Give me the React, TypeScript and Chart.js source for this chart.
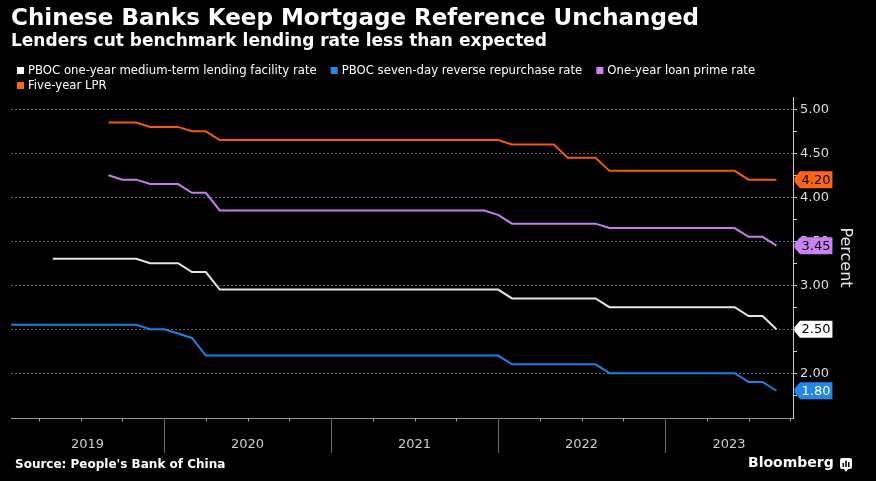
import React, { useEffect, useRef } from 'react';
import { Chart, registerables } from 'chart.js';

Chart.register(...registerables);

const titleText = 'Chinese Banks Keep Mortgage Reference Unchanged';
const subtitleText = 'Lenders cut benchmark lending rate less than expected';
const sourceText = "Source: People's Bank of China";
const axisTitle = 'Percent';

// monthly observations (month-end)
const months = [
  '2019-01', '2019-02', '2019-03', '2019-04', '2019-05', '2019-06', '2019-07', '2019-08', '2019-09', '2019-10', '2019-11', '2019-12',
  '2020-01', '2020-02', '2020-03', '2020-04', '2020-05', '2020-06', '2020-07', '2020-08', '2020-09', '2020-10', '2020-11', '2020-12',
  '2021-01', '2021-02', '2021-03', '2021-04', '2021-05', '2021-06', '2021-07', '2021-08', '2021-09', '2021-10', '2021-11', '2021-12',
  '2022-01', '2022-02', '2022-03', '2022-04', '2022-05', '2022-06', '2022-07', '2022-08', '2022-09', '2022-10', '2022-11', '2022-12',
  '2023-01', '2023-02', '2023-03', '2023-04', '2023-05', '2023-06', '2023-07', '2023-08',
];

const mlfRate = [
  null, null, null, 3.30, 3.30, 3.30, 3.30, 3.30, 3.30, 3.30, 3.25, 3.25,
  3.25, 3.15, 3.15, 2.95, 2.95, 2.95, 2.95, 2.95, 2.95, 2.95, 2.95, 2.95,
  2.95, 2.95, 2.95, 2.95, 2.95, 2.95, 2.95, 2.95, 2.95, 2.95, 2.95, 2.95,
  2.85, 2.85, 2.85, 2.85, 2.85, 2.85, 2.85, 2.75, 2.75, 2.75, 2.75, 2.75,
  2.75, 2.75, 2.75, 2.75, 2.75, 2.65, 2.65, 2.50,
];

const repoRate = [
  2.55, 2.55, 2.55, 2.55, 2.55, 2.55, 2.55, 2.55, 2.55, 2.55, 2.50, 2.50,
  2.45, 2.40, 2.20, 2.20, 2.20, 2.20, 2.20, 2.20, 2.20, 2.20, 2.20, 2.20,
  2.20, 2.20, 2.20, 2.20, 2.20, 2.20, 2.20, 2.20, 2.20, 2.20, 2.20, 2.20,
  2.10, 2.10, 2.10, 2.10, 2.10, 2.10, 2.10, 2.00, 2.00, 2.00, 2.00, 2.00,
  2.00, 2.00, 2.00, 2.00, 2.00, 1.90, 1.90, 1.80,
];

const lpr1y = [
  null, null, null, null, null, null, null, 4.25, 4.20, 4.20, 4.15, 4.15,
  4.15, 4.05, 4.05, 3.85, 3.85, 3.85, 3.85, 3.85, 3.85, 3.85, 3.85, 3.85,
  3.85, 3.85, 3.85, 3.85, 3.85, 3.85, 3.85, 3.85, 3.85, 3.85, 3.85, 3.80,
  3.70, 3.70, 3.70, 3.70, 3.70, 3.70, 3.70, 3.65, 3.65, 3.65, 3.65, 3.65,
  3.65, 3.65, 3.65, 3.65, 3.65, 3.55, 3.55, 3.45,
];

const lpr5y = [
  null, null, null, null, null, null, null, 4.85, 4.85, 4.85, 4.80, 4.80,
  4.80, 4.75, 4.75, 4.65, 4.65, 4.65, 4.65, 4.65, 4.65, 4.65, 4.65, 4.65,
  4.65, 4.65, 4.65, 4.65, 4.65, 4.65, 4.65, 4.65, 4.65, 4.65, 4.65, 4.65,
  4.60, 4.60, 4.60, 4.60, 4.45, 4.45, 4.45, 4.30, 4.30, 4.30, 4.30, 4.30,
  4.30, 4.30, 4.30, 4.30, 4.30, 4.20, 4.20, 4.20,
];

const yearLabels = ['2019', '2020', '2021', '2022', '2023'];
const yMajorTicks = [2.0, 2.5, 3.0, 3.5, 4.0, 4.5, 5.0];
const yMinorTicks = [1.75, 2.25, 2.75, 3.25, 3.75, 4.25, 4.75];

// axis range, in months since 1 Jan 2019
const xMin = 1;
const xMax = 57.19;
const yMin = 1.49;
const yMax = 5.14;

const series = [
  { label: 'PBOC one-year medium-term lending facility rate', values: mlfRate, color: '#e6e6e6', tag: '#ffffff', tagText: '#000000' },
  { label: 'PBOC seven-day reverse repurchase rate', values: repoRate, color: '#1f80e0', tag: '#2188e8', tagText: '#ffffff' },
  { label: 'One-year loan prime rate', values: lpr1y, color: '#c57cee', tag: '#cc80f5', tagText: '#000000' },
  { label: 'Five-year LPR', values: lpr5y, color: '#f25a0c', tag: '#ff6410', tagText: '#000000' },
];

const FONT = '"DejaVu Sans", sans-serif';

const monthToX = (m: string) => {
  const [y, mo] = m.split('-').map(Number);
  return (y - Number(yearLabels[0])) * 12 + mo;
};

const yearMid = (i: number) => {
  const a = Math.max(i * 12, xMin);
  const b = Math.min(i * 12 + 12, xMax);
  return (a + b) / 2;
};

const decorPlugin = {
  id: 'decor',
  afterDraw(chart: any) {
    const { ctx, chartArea, scales } = chart;
    const xs = scales.x;
    const ys = scales.y;
    ctx.save();

    // titles
    ctx.fillStyle = '#ffffff';
    ctx.textAlign = 'left';
    ctx.textBaseline = 'alphabetic';
    ctx.font = `bold 23px ${FONT}`;
    ctx.fillText(titleText, 11, 25);
    ctx.font = `bold 17px ${FONT}`;
    ctx.fillText(subtitleText, 11, 46);

    // legend
    ctx.font = `11.7px ${FONT}`;
    ctx.textBaseline = 'middle';
    let lx = 17;
    let ly = 70.5;
    chart.data.datasets.forEach((ds: any) => {
      const w = 11 + ctx.measureText(ds.label).width;
      if (lx + w > chartArea.right) {
        lx = 17;
        ly += 15;
      }
      ctx.fillStyle = ds.tagColor;
      ctx.fillRect(lx, ly - 3.5, 7, 7);
      ctx.fillStyle = '#ffffff';
      ctx.fillText(ds.label, lx + 11, ly);
      lx += w + 14;
    });

    // x axis quarter ticks and year separators
    const bottom = chartArea.bottom;
    for (let q = 3; q <= xMax; q += 3) {
      const px = Math.round(xs.getPixelForValue(q)) + 0.5;
      ctx.beginPath();
      if (q % 12 === 0) {
        ctx.strokeStyle = '#6a6a6a';
        ctx.moveTo(px, bottom);
        ctx.lineTo(px, bottom + 35);
      } else {
        ctx.strokeStyle = '#a0a0a0';
        ctx.moveTo(px, bottom);
        ctx.lineTo(px, bottom + 3.5);
      }
      ctx.lineWidth = 1;
      ctx.stroke();
    }

    // last value tags
    ctx.font = `13px ${FONT}`;
    chart.data.datasets.forEach((ds: any) => {
      const pts = ds.data.filter((p: any) => p.y !== null && p.y !== undefined);
      const last = pts[pts.length - 1];
      if (!last) return;
      const yy = ys.getPixelForValue(last.y);
      const txt = last.y.toFixed(2);
      const tw = ctx.measureText(txt).width;
      const x0 = chartArea.right + 1.5;
      const h = 17;
      const top = yy - h / 2;
      const bx = x0 + 5.5;
      const right = bx + tw + 3.5;
      ctx.fillStyle = ds.tagColor;
      ctx.beginPath();
      ctx.moveTo(x0, yy - 2);
      ctx.lineTo(bx, top);
      ctx.lineTo(right, top);
      ctx.lineTo(right, top + h);
      ctx.lineTo(bx, top + h);
      ctx.lineTo(x0, yy + 2);
      ctx.closePath();
      ctx.fill();
      ctx.fillStyle = ds.tagTextColor;
      ctx.textBaseline = 'middle';
      ctx.fillText(txt, bx + 1.5, yy + 0.5);
    });

    // source and logo
    ctx.fillStyle = '#ffffff';
    ctx.font = `bold 12px ${FONT}`;
    ctx.textBaseline = 'middle';
    ctx.fillText(sourceText, 15, 465);
    ctx.font = `bold 14px ${FONT}`;
    ctx.fillText('Bloomberg', 748, 463);
    ctx.fillStyle = '#ffffff';
    ctx.beginPath();
    ctx.roundRect(840, 458, 12, 11, 2);
    ctx.fill();
    ctx.beginPath();
    ctx.moveTo(844, 469);
    ctx.lineTo(846, 472);
    ctx.lineTo(848, 469);
    ctx.fill();
    ctx.fillStyle = '#000000';
    ctx.fillRect(842.5, 463, 1.5, 4);
    ctx.fillRect(845.3, 460.5, 1.5, 6.5);
    ctx.fillRect(848, 462, 1.5, 5);
    ctx.restore();
  },
};

export default function App() {
  const ref = useRef<HTMLCanvasElement>(null);

  useEffect(() => {
    if (!ref.current) return;
    const chart = new Chart(ref.current, {
      type: 'line',
      data: {
        datasets: series.map((s) => ({
          label: s.label,
          data: months.map((m, i) => ({ x: monthToX(m), y: s.values[i] })),
          borderColor: s.color,
          backgroundColor: s.color,
          borderWidth: 2,
          pointRadius: 0,
          tension: 0,
          spanGaps: false,
          tagColor: s.tag,
          tagTextColor: s.tagText,
        })) as any,
      },
      options: {
        responsive: false,
        animation: false,
        layout: { padding: { left: 11, top: 97, right: 0, bottom: 0 } },
        plugins: {
          legend: { display: false },
          title: { display: false },
          tooltip: { enabled: false },
        },
        scales: {
          x: {
            type: 'linear',
            min: xMin,
            max: xMax,
            afterBuildTicks: (scale: any) => {
              scale.ticks = yearLabels.map((_, i) => ({ value: yearMid(i) }));
            },
            afterFit: (scale: any) => {
              scale.height = 63;
            },
            ticks: {
              autoSkip: false,
              maxRotation: 0,
              padding: 19,
              color: '#cccccc',
              font: { family: FONT, size: 13 },
              callback: (_v: any, i: number) => yearLabels[i],
            },
            grid: { display: true, drawOnChartArea: false, drawTicks: false, color: 'rgba(0,0,0,0)' },
            border: { display: true, color: '#9a9a9a', width: 1 },
          },
          y: {
            type: 'linear',
            position: 'right',
            min: yMin,
            max: yMax,
            afterBuildTicks: (scale: any) => {
              scale.ticks = [...yMinorTicks, ...yMajorTicks]
                .sort((a, b) => a - b)
                .map((v) => ({ value: v }));
            },
            afterFit: (scale: any) => {
              scale.width = 83;
            },
            ticks: {
              autoSkip: false,
              padding: 3,
              color: '#dddddd',
              font: { family: FONT, size: 13 },
              callback: (v: any) => (yMajorTicks.includes(Number(v)) ? Number(v).toFixed(2) : ''),
            },
            grid: {
              display: true,
              drawOnChartArea: true,
              drawTicks: true,
              tickLength: 4,
              color: (c: any) => (c.tick && yMajorTicks.includes(c.tick.value) ? '#5e5e5e' : 'rgba(0,0,0,0)'),
              tickColor: '#cccccc',
              lineWidth: 1,
            },
            border: { display: true, color: '#cccccc', width: 1, dash: [2, 2] },
            title: {
              display: true,
              text: axisTitle,
              color: '#e6e6e6',
              font: { family: FONT, size: 16 },
              padding: { top: 21, bottom: 0 },
            },
          },
        },
      },
      plugins: [decorPlugin],
    });
    return () => chart.destroy();
  }, []);

  return (
    <div style={{ position: 'absolute', left: 0, top: 0, width: 876, height: 481, background: '#000000' }}>
      <canvas ref={ref} width={876} height={481} style={{ display: 'block' }} />
    </div>
  );
}
